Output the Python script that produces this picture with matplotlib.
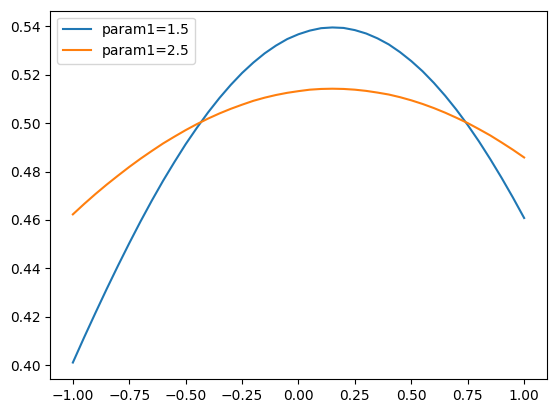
import matplotlib
matplotlib.use("Agg")
import matplotlib.pyplot as plt

# valores (paso de 0.05)
x = [-1.00, -0.95, -0.90, -0.85, -0.80, -0.75, -0.70, -0.65, -0.60, -0.55,
     -0.50, -0.45, -0.40, -0.35, -0.30, -0.25, -0.20, -0.15, -0.10, -0.05,
     0.00, 0.05, 0.10, 0.15, 0.20, 0.25, 0.30, 0.35, 0.40, 0.45,
     0.50, 0.55, 0.60, 0.65, 0.70, 0.75, 0.80, 0.85, 0.90, 0.95, 1.00]
y_15 = [0.4011, 0.4115, 0.4216, 0.4315, 0.4411, 0.4504, 0.4594, 0.4680, 0.4762, 0.4839,
        0.4913, 0.4981, 0.5045, 0.5104, 0.5158, 0.5207, 0.5250, 0.5288, 0.5320, 0.5347,
        0.5367, 0.5382, 0.5392, 0.5395, 0.5393, 0.5384, 0.5370, 0.5350, 0.5325, 0.5293,
        0.5256, 0.5214, 0.5166, 0.5113, 0.5055, 0.4992, 0.4924, 0.4851, 0.4774, 0.4693,
        0.4608]
y_25 = [0.4623, 0.4666, 0.4707, 0.4746, 0.4783, 0.4819, 0.4853, 0.4885, 0.4916, 0.4944,
        0.4971, 0.4996, 0.5019, 0.5040, 0.5059, 0.5076, 0.5092, 0.5105, 0.5116, 0.5125,
        0.5132, 0.5138, 0.5141, 0.5142, 0.5141, 0.5138, 0.5133, 0.5126, 0.5118, 0.5107,
        0.5094, 0.5079, 0.5062, 0.5043, 0.5022, 0.5000, 0.4975, 0.4949, 0.4920, 0.4890,
        0.4858]

fig = plt.figure(figsize=(5.56, 4.13), dpi=100)
ax = fig.add_axes([50.3 / 556, (413 - 379.3) / 413, 496.4 / 556, 368.6 / 413])

ax.plot(x, y_15, label="param1=1.5")
ax.plot(x, y_25, label="param1=2.5")
ax.legend(loc="upper left")

fig.savefig("out.png", dpi=100)
